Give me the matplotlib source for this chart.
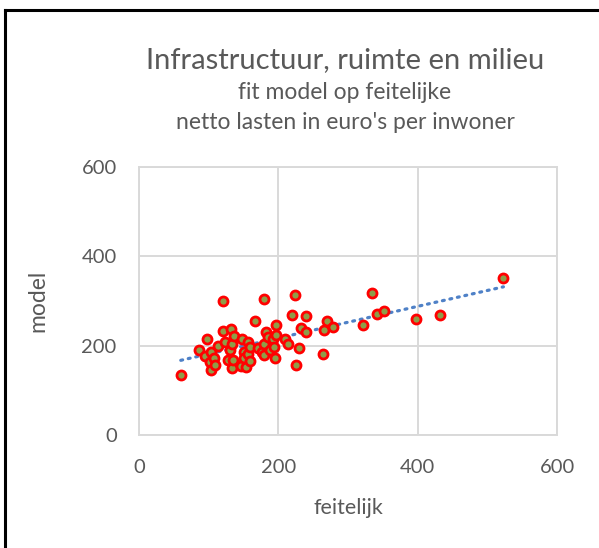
import matplotlib
matplotlib.use("Agg")
import matplotlib.pyplot as plt
import numpy as np

# feitelijke en model netto lasten (euro per inwoner)
feitelijk = [60, 86, 95, 97, 102, 103, 104, 108, 109, 114, 121, 121, 123, 128, 130,
             132, 133, 134, 135, 137, 147, 148, 151, 151, 154, 156, 156, 159, 160, 167,
             171, 176, 179, 179, 180, 183, 185, 188, 192, 194, 195, 197, 197, 210, 214,
             220, 224, 226, 230, 233, 240, 240, 264, 265, 270, 279, 322, 335, 341, 351,
             397, 432, 523]
model = [134, 190, 178, 216, 164, 146, 185, 172, 157, 200, 301, 234, 209, 168, 190,
         237, 205, 151, 168, 223, 155, 216, 187, 172, 153, 209, 181, 198, 166, 256,
         194, 186, 179, 304, 205, 230, 220, 190, 216, 198, 172, 246, 225, 216, 205,
         269, 313, 158, 196, 239, 266, 230, 181, 236, 256, 243, 246, 319, 272, 278,
         261, 270, 351]

ticks = [0, 200, 400, 600]

plt.rcParams['font.family'] = ['Lato', 'DejaVu Sans']
grijs = '#595959'

fig = plt.figure(figsize=(5.99, 5.48), dpi=100)
ax = fig.add_axes([0.232, 0.206, 0.698, 0.489])

# trendlijn (lineaire fit)
x = np.array(feitelijk)
y = np.array(model)
a, b = np.polyfit(x, y, 1)
xs = np.array([x.min(), x.max()])
ax.plot(xs, a * xs + b, color='#4f81c7', lw=2.3, ls=(0, (0.6, 1.8)),
        dash_capstyle='round', zorder=2)

ax.plot(feitelijk, model, 'o', ms=6.5, mfc='#8e9d48', mec='#ff0000', mew=2.0, zorder=3)

ax.set_xlim(0, 600)
ax.set_ylim(0, 600)
ax.set_xticks(ticks)
ax.set_yticks(ticks)
ax.grid(True, color='#d9d9d9', lw=1.4)
ax.set_axisbelow(True)
for s in ax.spines.values():
    s.set_color('#d9d9d9')
    s.set_linewidth(1.4)
ax.tick_params(length=0, labelsize=14.5, labelcolor=grijs)
ax.tick_params(axis='x', pad=17)
ax.tick_params(axis='y', pad=16)
ax.set_xlabel('feitelijk', fontsize=15.5, color=grijs, labelpad=16)
ax.set_ylabel('model', fontsize=16.5, color=grijs, labelpad=24)

fig.text(0.576, 0.891, 'Infrastructuur, ruimte en milieu', ha='center', va='center',
         fontsize=21, color=grijs)
fig.text(0.576, 0.831, 'fit model op feitelijke', ha='center', va='center',
         fontsize=16.5, color=grijs)
fig.text(0.576, 0.777, "netto lasten in euro's per inwoner", ha='center', va='center',
         fontsize=16.5, color=grijs)

# zwarte rand links en boven
fig.add_artist(plt.Line2D([0.008, 1.0], [0.981, 0.981], color='black', lw=2.2))
fig.add_artist(plt.Line2D([0.008, 0.008], [0.0, 0.981], color='black', lw=2.2))

fig.savefig('out.png', dpi=100)
